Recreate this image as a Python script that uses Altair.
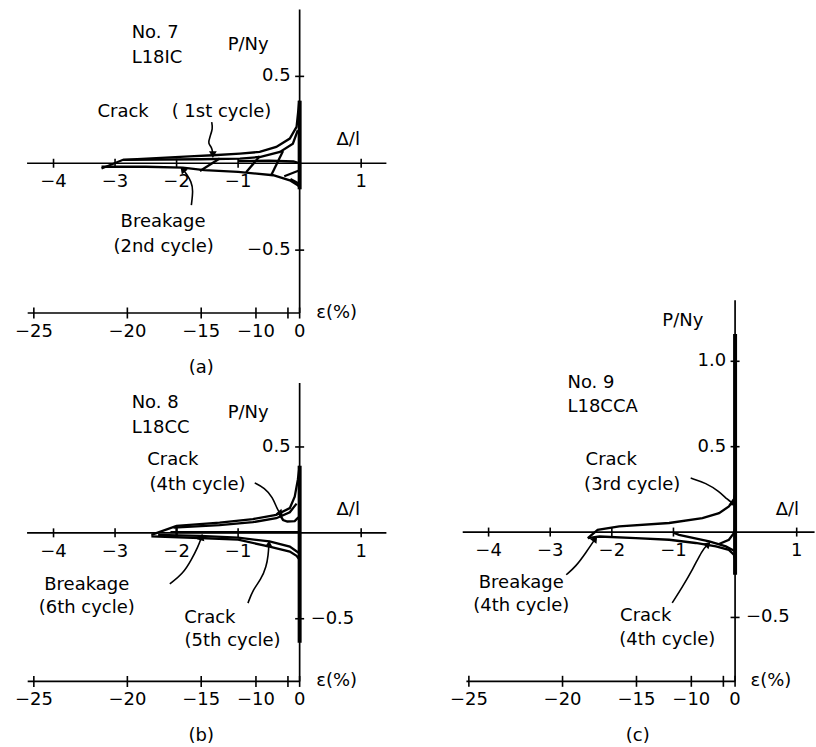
import altair as alt
import pandas as pd

FONT = "DejaVu Sans"
FS = 18

# ---------------- shared axis values ----------------
dl_tick_vals = [-4, -3, -2, -1, 1]
dl_tick_text = ["−4", "−3", "−2", "−1", "1"]
# strain ticks (ε %) and the Δ/l value each one sits at on the secondary scale
strain_tick_pos = [-4.32, -2.80, -1.60, -0.71, -0.19, 0.0]
strain_tick_text = ["−25", "−20", "−15", "−10", "", "0"]

# ---------------- panel (a) No.7 L18IC ----------------
a_outer_x = [-3.22, -2.87, -2.33, -1.79, -1.41, -0.97, -0.65, -0.38, -0.16, -0.05, -0.01, 0.0]
a_outer_y = [-0.03, 0.02, 0.03, 0.04, 0.046, 0.056, 0.065, 0.094, 0.142, 0.209, 0.343, 0.36]
a_inner_x = [-2.87, -1.62, -0.97, -0.65, -0.32, -0.11, -0.03]
a_inner_y = [0.02, 0.023, 0.027, 0.036, 0.065, 0.113, 0.19]
a_lower_x = [-3.22, -2.5, -1.9, -1.55, -1.0, -0.43, -0.16, -0.03, 0.0]
a_lower_y = [-0.02, -0.02, -0.025, -0.04, -0.05, -0.069, -0.098, -0.126, -0.14]
a_near_x = [-1.0, -0.5, -0.1, 0.0]
a_near_y = [0.012, 0.015, 0.01, 0.0]
a_r1_x, a_r1_y = [-1.62, -1.30], [-0.045, 0.027]
a_r2_x, a_r2_y = [-0.87, -0.65], [-0.052, 0.04]
a_r3_x, a_r3_y = [-0.46, -0.27], [-0.068, 0.07]
a_w1_x, a_w1_y = [-0.25, 0.0], [-0.075, -0.04]
a_w2_x, a_w2_y = [-0.15, 0.0], [-0.09, -0.12]
a_spike_x, a_spike_y = [0.0, 0.0], [0.36, -0.15]
a_lead1_x = [-1.43, -1.41, -1.46, -1.49, -1.43, -1.41]
a_lead1_y = [0.237, 0.199, 0.151, 0.113, 0.094, 0.056]
a_lead2_x = [-1.76, -1.73, -1.76, -1.84, -1.89]
a_lead2_y = [-0.241, -0.155, -0.107, -0.06, -0.04]
a_arrow_ang = [180, 320]

# ---------------- panel (b) No.8 L18CC ----------------
b_outer_x = [-2.41, -2.0, -1.30, -0.76, -0.38, -0.16, -0.08, -0.03, 0.0]
b_outer_y = [-0.012, 0.041, 0.060, 0.080, 0.105, 0.144, 0.211, 0.308, 0.39]
b_inner_x = [-2.05, -1.3, -0.76, -0.38, -0.16, -0.05]
b_inner_y = [0.03, 0.045, 0.062, 0.085, 0.12, 0.17]
b_loop_x = [-0.33, -0.27, -0.2, -0.08, -0.02]
b_loop_y = [0.11, 0.075, 0.066, 0.068, 0.09]
b_lower_x = [-2.41, -1.62, -1.0, -0.49, -0.16, -0.05, 0.0]
b_lower_y = [-0.02, -0.03, -0.04, -0.08, -0.109, -0.134, -0.157]
b_lower2_x = [-2.3, -1.62, -1.0, -0.49, -0.16, 0.0]
b_lower2_y = [-0.012, -0.018, -0.028, -0.05, -0.08, -0.12]
b_vert_x, b_vert_y = [-2.0, -2.0], [0.037, -0.022]
b_near_x, b_near_y = [-2.1, 0.0], [0.004, 0.004]
b_spike_x, b_spike_y = [0.0, 0.0], [0.39, -0.64]
b_lead1_x = [-0.73, -0.57, -0.44, -0.36, -0.32]
b_lead1_y = [0.291, 0.262, 0.209, 0.134, 0.116]
b_lead2_x = [-2.11, -1.89, -1.76, -1.65, -1.60]
b_lead2_y = [-0.297, -0.235, -0.157, -0.08, -0.03]
b_lead3_x = [-0.84, -0.76, -0.63, -0.54, -0.51, -0.50]
b_lead3_y = [-0.409, -0.331, -0.273, -0.196, -0.128, -0.07]
b_arrow_ang = [140, 15, 3]

# ---------------- panel (c) No.9 L18CCA ----------------
c_outer_x = [-2.39, -2.23, -1.88, -1.07, -0.53, -0.26, -0.10, -0.02, 0.0]
c_outer_y = [-0.035, 0.013, 0.033, 0.053, 0.082, 0.111, 0.15, 0.189, 0.22]
c_lower_x = [-2.39, -2.2, -1.61, -1.07, -0.64, -0.31, -0.10, -0.02, 0.0]
c_lower_y = [-0.035, -0.026, -0.035, -0.045, -0.064, -0.084, -0.104, -0.133, -0.16]
c_crack_x = [-1.0, -0.91, -0.42, -0.15, 0.0]
c_crack_y = [-0.004, -0.016, -0.055, -0.084, -0.113]
c_loop_x = [-0.26, -0.10, -0.02, 0.0]
c_loop_y = [-0.07, -0.045, -0.006, 0.02]
c_spike_x, c_spike_y = [0.0, 0.0], [1.16, -0.25]
c_lead1_x = [-0.72, -0.47, -0.26, -0.12, -0.04]
c_lead1_y = [0.316, 0.287, 0.238, 0.189, 0.169]
c_lead2_x = [-2.74, -2.58, -2.42, -2.28]
c_lead2_y = [-0.25, -0.20, -0.12, -0.045]
c_lead3_x = [-1.02, -0.85, -0.69, -0.53, -0.45]
c_lead3_y = [-0.415, -0.318, -0.22, -0.104, -0.075]
c_arrow_ang = [125, 35, 45]


def curves_df(curves):
    rows = []
    for name, (xs, ys) in curves.items():
        for i, (x, y) in enumerate(zip(xs, ys)):
            rows.append(dict(seg=name, ord=i, x=x, y=y))
    return pd.DataFrame(rows)


PANELS = {
    "a": dict(
        width=408, height=370, xdom=[-4.870, 1.753], ydom=[-1.190, 0.937],
        axes=[(-4.43, 0, 1.41, 0), (0, 0.885, 0, -0.862), (-4.42, -0.862, 0, -0.862)],
        strain_y=-0.862,
        thin={"outer": (a_outer_x, a_outer_y), "inner": (a_inner_x, a_inner_y),
              "lower": (a_lower_x, a_lower_y), "near": (a_near_x, a_near_y),
              "r1": (a_r1_x, a_r1_y), "r2": (a_r2_x, a_r2_y), "r3": (a_r3_x, a_r3_y),
              "w1": (a_w1_x, a_w1_y), "w2": (a_w2_x, a_w2_y)},
        thick={"spike": (a_spike_x, a_spike_y)},
        leaders={"l1": (a_lead1_x, a_lead1_y), "l2": (a_lead2_x, a_lead2_y)},
        angles=a_arrow_ang,
        yticks=[0.5, -0.5], ylab_right=[(0.5, "0.5"), (-0.5, "−0.5")], ylab_left=[],
        left=[("No. 7", -2.73, 0.747), ("L18IC", -2.73, 0.603), ("P/Ny", -1.17, 0.678),
              ("Δ/l", 0.60, 0.132), ("ε(%)", 0.27, -0.862)],
        center=[("Crack", -2.87, 0.295), ("( 1st cycle)", -1.27, 0.295),
                ("Breakage", -2.22, -0.339), ("(2nd cycle)", -2.21, -0.483),
                ("(a)", -1.60, -1.178)],
    ),
    "b": dict(
        width=408, height=377, xdom=[-4.870, 1.753], ydom=[-1.244, 0.948],
        axes=[(-4.43, 0, 1.41, 0), (0, 0.872, 0, -0.865), (-4.42, -0.865, 0, -0.865)],
        strain_y=-0.865,
        thin={"outer": (b_outer_x, b_outer_y), "inner": (b_inner_x, b_inner_y),
              "loop": (b_loop_x, b_loop_y), "lower": (b_lower_x, b_lower_y),
              "lower2": (b_lower2_x, b_lower2_y), "vert": (b_vert_x, b_vert_y),
              "near": (b_near_x, b_near_y)},
        thick={"spike": (b_spike_x, b_spike_y)},
        leaders={"l1": (b_lead1_x, b_lead1_y), "l2": (b_lead2_x, b_lead2_y),
                 "l3": (b_lead3_x, b_lead3_y)},
        angles=b_arrow_ang,
        yticks=[0.5, -0.5], ylab_right=[(0.5, "0.5")], ylab_left=[(-0.5, "−0.5")],
        left=[("No. 8", -2.73, 0.756), ("L18CC", -2.73, 0.610), ("P/Ny", -1.17, 0.698),
              ("Δ/l", 0.60, 0.134), ("ε(%)", 0.27, -0.865)],
        center=[("Crack", -2.06, 0.424), ("(4th cycle)", -1.66, 0.279),
                ("Breakage", -3.46, -0.302), ("(6th cycle)", -3.46, -0.436),
                ("Crack", -1.46, -0.494), ("(5th cycle)", -1.09, -0.632),
                ("(b)", -1.60, -1.184)],
    ),
    "c": dict(
        width=408, height=377, xdom=[-5.316, 1.297], ydom=[-1.256, 0.949],
        axes=[(-4.42, 0, 1.29, 0), (0, 1.358, 0, -0.874), (-4.36, -0.874, 0, -0.874)],
        strain_y=-0.874,
        thin={"outer": (c_outer_x, c_outer_y), "lower": (c_lower_x, c_lower_y),
              "crack": (c_crack_x, c_crack_y), "loop": (c_loop_x, c_loop_y)},
        thick={"spike": (c_spike_x, c_spike_y)},
        leaders={"l1": (c_lead1_x, c_lead1_y), "l2": (c_lead2_x, c_lead2_y),
                 "l3": (c_lead3_x, c_lead3_y)},
        angles=c_arrow_ang,
        yticks=[1.0, 0.5, -0.5], ylab_right=[(1.0, "1.0"), (0.5, "0.5")],
        ylab_left=[(-0.5, "−0.5")],
        left=[("P/Ny", -1.18, 1.237), ("No. 9", -2.72, 0.873), ("L18CCA", -2.72, 0.734),
              ("Δ/l", 0.66, 0.13), ("ε(%)", 0.25, -0.874)],
        center=[("Crack", -2.01, 0.423), ("(3rd cycle)", -1.67, 0.277),
                ("Breakage", -3.47, -0.296), ("(4th cycle)", -3.47, -0.435),
                ("Crack", -1.45, -0.494), ("(4th cycle)", -1.10, -0.63),
                ("(c)", -1.58, -1.195)],
    ),
}


def make_panel(P):
    xs = alt.Scale(domain=P["xdom"], nice=False, zero=False)
    ys = alt.Scale(domain=P["ydom"], nice=False, zero=False)

    def X(f):
        return alt.X(f, type="quantitative", scale=xs, axis=None)

    def Y(f):
        return alt.Y(f, type="quantitative", scale=ys, axis=None)

    layers = []
    ax = pd.DataFrame(P["axes"], columns=["x", "y", "x2", "y2"])
    layers.append(alt.Chart(ax).mark_rule(color="black", strokeWidth=1.7).encode(
        x=X("x"), y=Y("y"), x2="x2", y2="y2"))

    thin = curves_df(P["thin"])
    layers.append(alt.Chart(thin).mark_line(color="black", strokeWidth=2.3).encode(
        x=X("x"), y=Y("y"), detail="seg:N", order="ord:Q"))

    thick = curves_df(P["thick"])
    layers.append(alt.Chart(thick).mark_line(color="black", strokeWidth=4).encode(
        x=X("x"), y=Y("y"), detail="seg:N", order="ord:Q"))

    lead = curves_df(P["leaders"])
    layers.append(alt.Chart(lead).mark_line(color="black", strokeWidth=1.6,
                                            interpolate="basis").encode(
        x=X("x"), y=Y("y"), detail="seg:N", order="ord:Q"))

    tips = pd.DataFrame([dict(x=xs_[-1], y=ys_[-1], ang=a) for (xs_, ys_), a in
                         zip(P["leaders"].values(), P["angles"])])
    layers.append(alt.Chart(tips).mark_point(shape="triangle", filled=True, color="black",
                                             size=60, opacity=1).encode(
        x=X("x"), y=Y("y"), angle=alt.Angle("ang:Q", scale=None)))

    dlt = pd.DataFrame(dict(x=dl_tick_vals, y=[0] * len(dl_tick_vals), t=dl_tick_text))
    layers.append(alt.Chart(dlt).mark_tick(orient="vertical", size=9, thickness=1.6,
                                           color="black", opacity=1).encode(x=X("x"), y=Y("y")))
    layers.append(alt.Chart(dlt).mark_text(font=FONT, fontSize=FS, dy=19, color="black").encode(
        x=X("x"), y=Y("y"), text="t:N"))

    st = pd.DataFrame(dict(x=strain_tick_pos, y=[P["strain_y"]] * len(strain_tick_pos),
                           t=strain_tick_text))
    layers.append(alt.Chart(st).mark_tick(orient="vertical", size=11, thickness=1.6,
                                          color="black", opacity=1).encode(x=X("x"), y=Y("y")))
    layers.append(alt.Chart(st).mark_text(font=FONT, fontSize=FS, dy=19, color="black").encode(
        x=X("x"), y=Y("y"), text="t:N"))

    yt = pd.DataFrame(dict(x=[0] * len(P["yticks"]), y=P["yticks"]))
    layers.append(alt.Chart(yt).mark_tick(orient="horizontal", size=9, thickness=1.6,
                                          color="black", opacity=1).encode(x=X("x"), y=Y("y")))
    if P["ylab_right"]:
        yr = pd.DataFrame([dict(x=0, y=v, t=s) for v, s in P["ylab_right"]])
        layers.append(alt.Chart(yr).mark_text(font=FONT, fontSize=FS, align="right", dx=-9,
                                              color="black").encode(
            x=X("x"), y=Y("y"), text="t:N"))
    if P["ylab_left"]:
        yl = pd.DataFrame([dict(x=0, y=v, t=s) for v, s in P["ylab_left"]])
        layers.append(alt.Chart(yl).mark_text(font=FONT, fontSize=FS, align="left", dx=11,
                                              color="black").encode(
            x=X("x"), y=Y("y"), text="t:N"))

    lt = pd.DataFrame(P["left"], columns=["t", "x", "y"])
    layers.append(alt.Chart(lt).mark_text(font=FONT, fontSize=FS, align="left",
                                          color="black").encode(x=X("x"), y=Y("y"), text="t:N"))
    ct = pd.DataFrame(P["center"], columns=["t", "x", "y"])
    layers.append(alt.Chart(ct).mark_text(font=FONT, fontSize=FS, align="center",
                                          color="black").encode(x=X("x"), y=Y("y"), text="t:N"))

    return alt.layer(*layers).properties(width=P["width"], height=P["height"])


pa = make_panel(PANELS["a"])
pb = make_panel(PANELS["b"])
pc = make_panel(PANELS["c"])

bottom = alt.hconcat(pb, pc, spacing=0, bounds="flush")
chart = alt.vconcat(pa, bottom, spacing=0, bounds="flush").properties(
    padding=0, background="white"
).configure_view(strokeWidth=0)

chart.save("out.html", embed_options={"renderer": "svg", "actions": False})
